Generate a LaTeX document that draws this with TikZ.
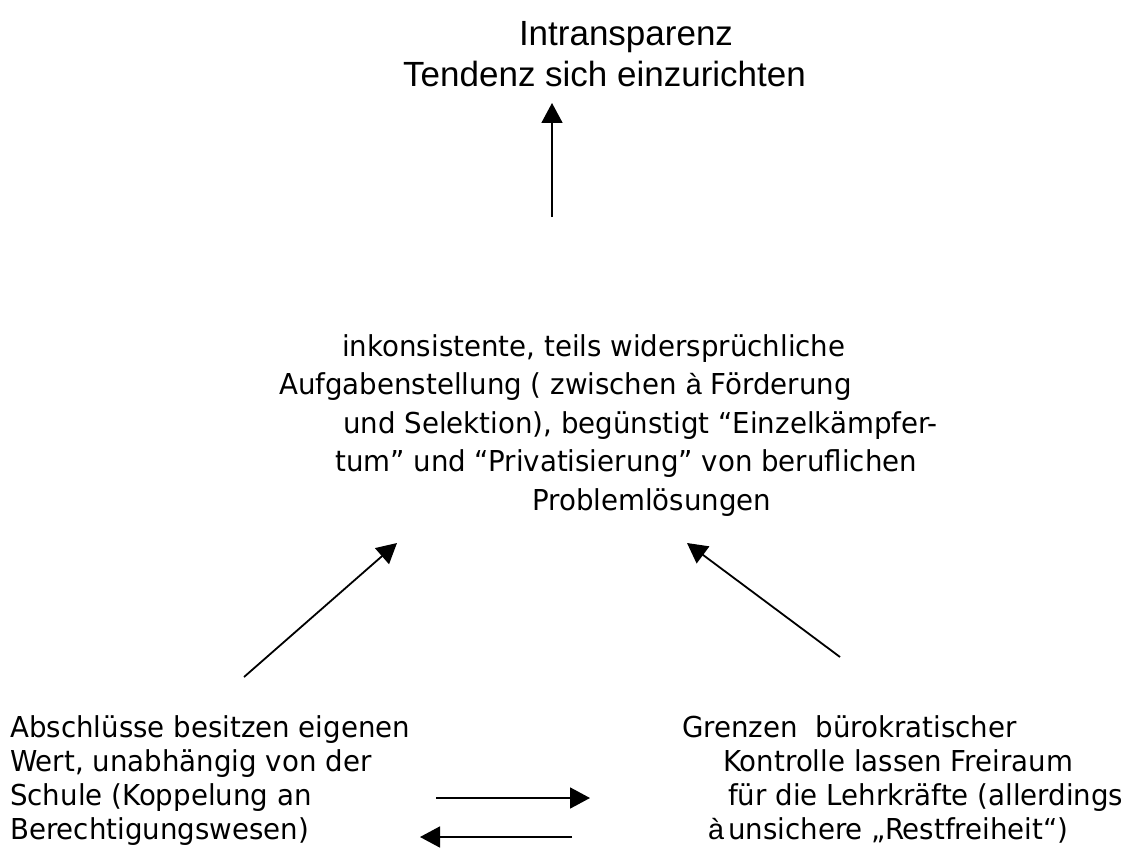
\documentclass[tikz,border=0pt]{standalone}
\usepackage{fontspec}
\setmainfont[FakeStretch=0.96]{DejaVu Sans}
\newfontfamily\arialf{Liberation Sans}
\usetikzlibrary{arrows.meta}
\newcommand\tline[2]{\hbox{\hskip#1\relax #2}}
\begin{document}
\begin{tikzpicture}[x=1pt,y=-1pt,
  txt/.style={inner sep=0pt, anchor=base west, font=\fontsize{28.8}{34.2}\selectfont},
  toptxt/.style={inner sep=0pt, anchor=base, font=\arialf\fontsize{35}{35}\selectfont},
  arr/.style={line width=1.8pt, -{Triangle[length=20pt,width=21pt]}}]
\useasboundingbox (0,0) rectangle (1134,856);
\fill[white] (0,0) rectangle (1134,856);

% top block
\node[toptxt] (top1) at (626,46) {Intransparenz};
\node[toptxt, anchor=base west] (top2) at (403,87) {Tendenz sich einzurichten};

% middle block
\node[txt, font=\fontsize{28.8}{38.5}\selectfont] (mid) at (279,356) {\vtop{%
  \tline{63pt}{inkonsistente, teils widersprüchliche}%
  \tline{0pt}{Aufgabenstellung ( zwischen {\arialf à} Förderung}%
  \tline{64pt}{und Selektion), begünstigt “Einzelkämpfer-}%
  \tline{56pt}{tum” und “Privatisierung” von beruflichen}%
  \tline{253pt}{Problemlösungen}}};

% left block
\node[txt] (left) at (10,737) {\vtop{%
  \tline{0pt}{Abschlüsse besitzen eigenen}%
  \tline{0pt}{Wert, unabhängig von der}%
  \tline{0pt}{Schule (Koppelung an}%
  \tline{0pt}{Berechtigungswesen)}}};

% right block
\node[txt] (right) at (682,737) {\vtop{%
  \tline{0pt}{Grenzen\ \ bürokratischer}%
  \tline{41pt}{Kontrolle lassen Freiraum}%
  \tline{46pt}{für die Lehrkräfte (allerdings}%
  \tline{26pt}{{\arialf à}\hskip4pt unsichere „Restfreiheit“)}}};

% connector end points
\coordinate (upS) at (552,217);
\coordinate (upE) at (552,103);
\coordinate (lS) at (244,677);
\coordinate (lE) at (397,543);
\coordinate (rS) at (840,657);
\coordinate (rE) at (687,543);
\coordinate (hAS) at (436,798);
\coordinate (hAE) at (590,798);
\coordinate (hBS) at (572,837);
\coordinate (hBE) at (420,837);

\draw[arr] (upS) -- (upE);
\draw[arr] (lS) -- (lE);
\draw[arr] (rS) -- (rE);
\draw[arr] (hAS) -- (hAE);
\draw[arr] (hBS) -- (hBE);
\end{tikzpicture}
\end{document}
